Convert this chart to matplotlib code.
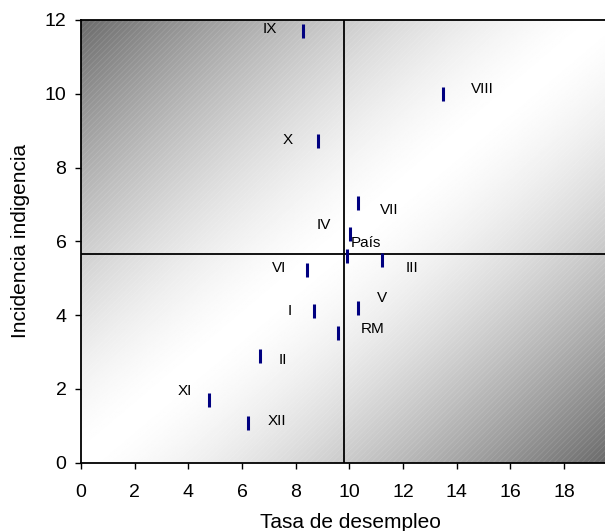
import numpy as np
import matplotlib
matplotlib.use('Agg')
import matplotlib.pyplot as plt
from matplotlib.patches import Rectangle

plt.rcParams['font.family'] = ['Liberation Sans', 'DejaVu Sans']
plt.rcParams['hatch.linewidth'] = 0.6

# regiones: tasa de desempleo vs incidencia de indigencia
regiones = ['IX', 'X', 'IV', 'VIII', 'VII', 'País', 'VI', 'I', 'II', 'XI', 'XII', 'III', 'V', 'RM']
desempleo = [8.29, 8.82, 10.03, 13.48, 10.31, 9.90, 8.41, 8.70, 6.68, 4.78, 6.21, 11.22, 10.31, 9.59]
indigencia = [11.70, 8.72, 6.20, 10.00, 7.03, 5.59, 5.21, 4.10, 2.89, 1.69, 1.08, 5.50, 4.20, 3.51]

# lineas de referencia (promedio pais)
ref_x = 9.81
ref_y = 5.65

# desplazamiento de etiquetas en pixeles
label_offsets = [(-34, 2), (-30, 1), (-26, 9), (40, 5), (32, -7), (19, 13), (-28, 2),
                 (-25, 0), (23, -4), (-24, 9), (29, 2), (30, -8), (24, 10), (34, 4)]

fig = plt.figure(figsize=(6.05, 5.31), dpi=100)
ax = fig.add_axes([81 / 605, 68.5 / 531, 1 - 81 / 605, (462.5 - 20) / 531])

# fondo degradado diagonal (blanco en la diagonal, gris en las esquinas)
n = 400
xx, yy = np.meshgrid(np.linspace(0, 1, n), np.linspace(0, 1, n))
shade = 1 - 0.58 * np.abs(xx - yy) ** 1.5
ax.imshow(shade, cmap='gray', vmin=0, vmax=1, origin='lower', extent=(0, 1, 0, 1),
          transform=ax.transAxes, aspect='auto', zorder=0, interpolation='bilinear')
# textura de rayas finas
ax.add_patch(Rectangle((0, 0), 1, 1, transform=ax.transAxes, facecolor='none',
                       edgecolor=(1, 1, 1, 0.12), hatch='//////', lw=0, zorder=1))

ax.axvline(ref_x, color='black', lw=1.3, zorder=2)
ax.axhline(ref_y, color='black', lw=1.3, zorder=2)

ax.plot(desempleo, indigencia, linestyle='none', marker='|', markersize=10.5,
        markeredgewidth=2.2, color='#000080', zorder=3)

for name, x, y, (dx, dy) in zip(regiones, desempleo, indigencia, label_offsets):
    ax.annotate(name, (x, y), xytext=(dx, dy), textcoords='offset pixels',
                ha='center', va='center', fontsize=11, color='black', zorder=4)

ax.set_xlim(0, 19.53)
ax.set_ylim(0, 12)
ax.set_xticks(range(0, 20, 2))
ax.set_yticks(range(0, 13, 2))
ax.tick_params(direction='out', length=4.5, width=1, labelsize=14)
ax.tick_params(axis='x', pad=11)
ax.tick_params(axis='y', pad=6)
ax.spines['right'].set_visible(False)
for s in ['left', 'bottom', 'top']:
    ax.spines[s].set_linewidth(1.3)

fig.text(350 / 605, 1 - 528 / 531, 'Tasa de desempleo', fontsize=15,
         ha='center', va='baseline')
fig.text(26 / 605, 1 - 241 / 531, 'Incidencia indigencia', fontsize=15, rotation=90,
         rotation_mode='anchor', ha='center', va='baseline')

fig.savefig('out.png', dpi=100)
